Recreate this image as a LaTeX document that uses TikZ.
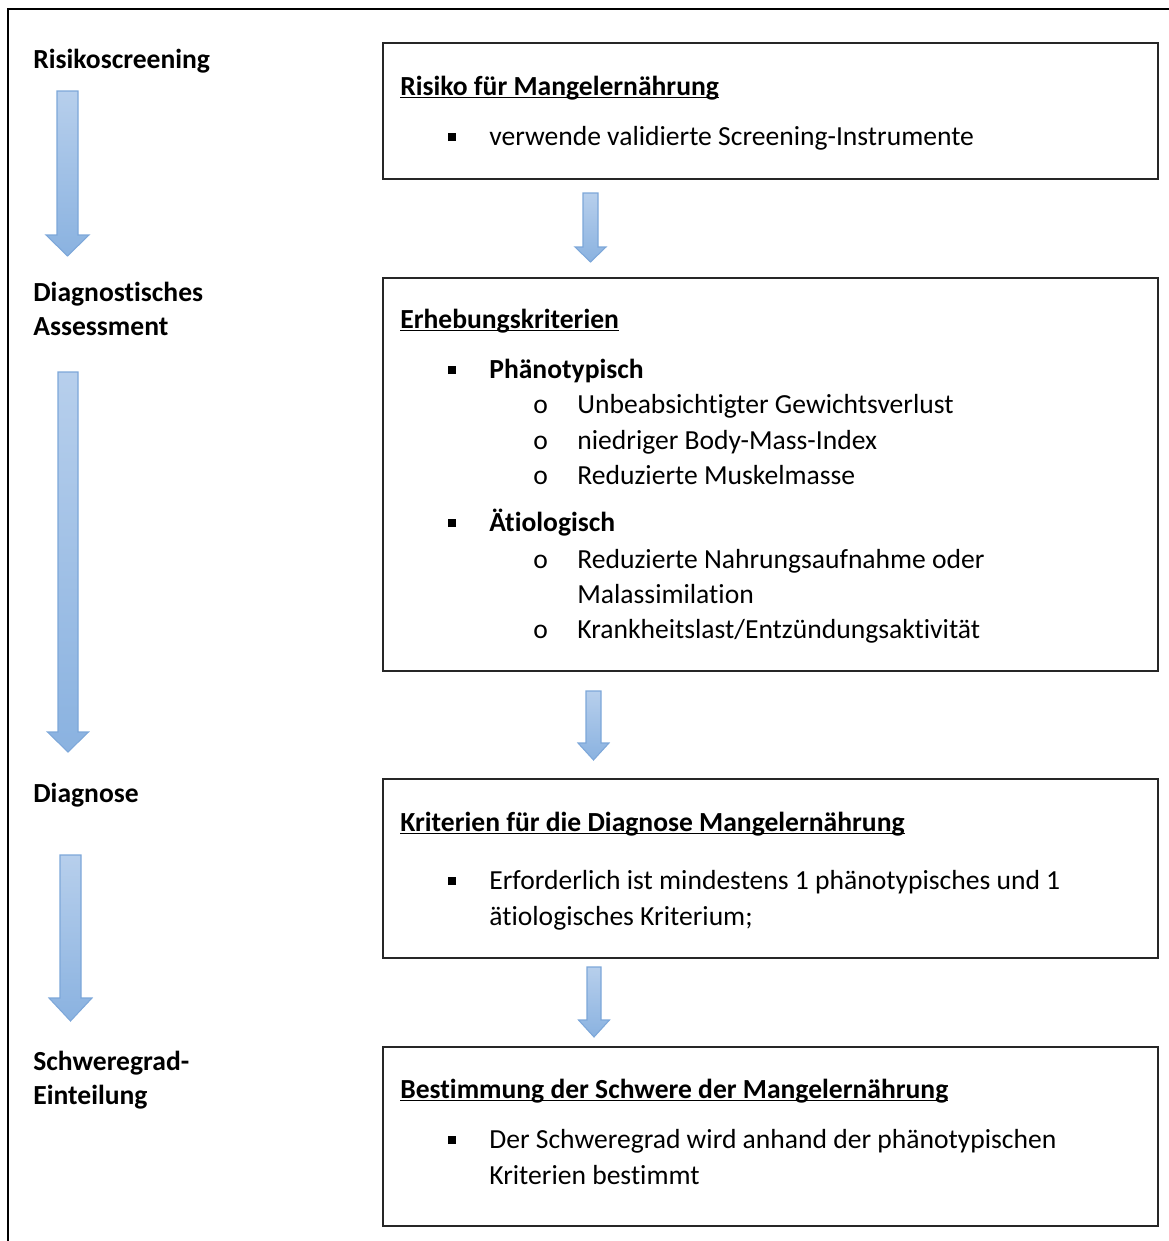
\documentclass[tikz,border=0pt]{standalone}
\usepackage{fontspec}
\setmainfont[Ligatures=NoCommon]{Carlito}
\usepackage{xcolor}
\usepackage{tikz}
\usetikzlibrary{calc}

\definecolor{pfeilhell}{HTML}{B7CFEC}
\definecolor{pfeildunkel}{HTML}{8AB2E0}
\definecolor{pfeilrand}{HTML}{7DA7D9}

% Blockpfeil: x-Mitte, y oben, y Spitzenansatz, y Spitze, halbe Schaftbreite, halbe Spitzenbreite
\newcommand{\blockpfeil}[6]{%
  \shade[top color=pfeilhell,bottom color=pfeildunkel,draw=pfeilrand,line width=0.6pt]
    (#1-#5,#2)--(#1+#5,#2)--(#1+#5,#3)--(#1+#6,#3)--(#1,#4)--(#1-#6,#3)--(#1-#5,#3)--cycle;}
\newcommand{\ul}[1]{{\setbox0\hbox{#1}\rlap{\rule[-0.12em]{\wd0}{0.065em}}\box0}}
\newcommand{\qpunkt}{\rule[0.14em]{0.27em}{0.29em}}
\newcommand{\grund}{\fontsize{15.7pt}{20pt}\selectfont}

\begin{document}
\begin{tikzpicture}[x=0.02cm,y=-0.02cm,
   font=\grund,
   lbl/.style={anchor=base west,inner sep=0pt,font=\grund\bfseries},
   txt/.style={anchor=base west,inner sep=0pt},
   kasten/.style={draw=black!85,line width=1.1pt,anchor=north west,inner sep=0pt,minimum width=15.5cm}]
  \useasboundingbox (0,0) rectangle (1169,1241);
  \draw[line width=1.5pt] (8,1245)--(8,9)--(1175,9);
  % linke Spalte
  \node[lbl] (l1) at (33,68) {Risikoscreening};
  \node[lbl] (l2) at (33,301) {Diagnostisches};
  \node[lbl] (l2b) at (33,335) {Assessment};
  \node[lbl] (l3) at (33,802) {Diagnose};
  \node[lbl] (l4) at (33,1070) {Schweregrad-};
  \node[lbl] (l4b) at (33,1104) {Einteilung};
  \blockpfeil{67.5}{91}{235}{256}{10.5}{21.5}
  \blockpfeil{68}{372}{732}{752}{10}{20.5}
  \blockpfeil{70.5}{855}{998}{1021}{10.5}{21.5}
  % Kaesten
  \node[kasten,minimum height=2.72cm] (risiko) at (382,42) {};
  \node[kasten,minimum height=7.86cm] (erhebung) at (382,277) {};
  \node[kasten,minimum height=3.58cm] (diagnose) at (382,778) {};
  \node[kasten,minimum height=3.58cm] (schwere) at (382,1046) {};
  \blockpfeil{590.5}{193}{247}{262}{7.5}{15.5}
  \blockpfeil{593.5}{691}{743}{760}{7.5}{15.5}
  \blockpfeil{594}{967}{1020}{1037}{7}{15.5}
  % Kasten 1
  \node[txt] (t1) at (400,95) {\bfseries\ul{Risiko für Mangelernährung}};
  \node[txt] (b1) at (448,145) {\qpunkt};
  \node[txt] (s1) at (489,145) {verwende validierte Screening-Instrumente};
  % Kasten 2
  \node[txt] (t2) at (400,328) {\bfseries\ul{Erhebungskriterien}};
  \node[txt] (b2) at (448,378) {\qpunkt};
  \node[txt] (s2) at (489,378) {\bfseries Phänotypisch};
  \foreach \y/\t [count=\i] in {413/Unbeabsichtigter Gewichtsverlust,
      449/niedriger Body-Mass-Index, 484/Reduzierte Muskelmasse}{
    \node[txt] (oa\i) at (533,\y) {o};
    \node[txt] (pa\i) at (577,\y) {\t};
  }
  \node[txt] (b3) at (448,531) {\qpunkt};
  \node[txt] (s3) at (489,531) {\bfseries Ätiologisch};
  \node[txt] (ob1) at (533,568) {o};
  \node[txt] (pb1) at (577,568) {Reduzierte Nahrungsaufnahme oder};
  \node[txt] (pb1b) at (577,603) {Malassimilation};
  \node[txt] (ob2) at (533,638) {o};
  \node[txt] (pb2) at (577,638) {Krankheitslast/Entzündungsaktivität};
  % Kasten 3
  \node[txt] (t4) at (400,831) {\bfseries\ul{Kriterien für die Diagnose Mangelernährung}};
  \node[txt] (b4) at (448,889) {\qpunkt};
  \node[txt] (s4) at (489,889) {Erforderlich ist mindestens 1 phänotypisches und 1};
  \node[txt] (s4b) at (489,925) {ätiologisches Kriterium;};
  % Kasten 4
  \node[txt] (t5) at (400,1098) {\bfseries\ul{Bestimmung der Schwere der Mangelernährung}};
  \node[txt] (b5) at (448,1148) {\qpunkt};
  \node[txt] (s5) at (489,1148) {Der Schweregrad wird anhand der phänotypischen};
  \node[txt] (s5b) at (489,1184) {Kriterien bestimmt};
\end{tikzpicture}
\end{document}
